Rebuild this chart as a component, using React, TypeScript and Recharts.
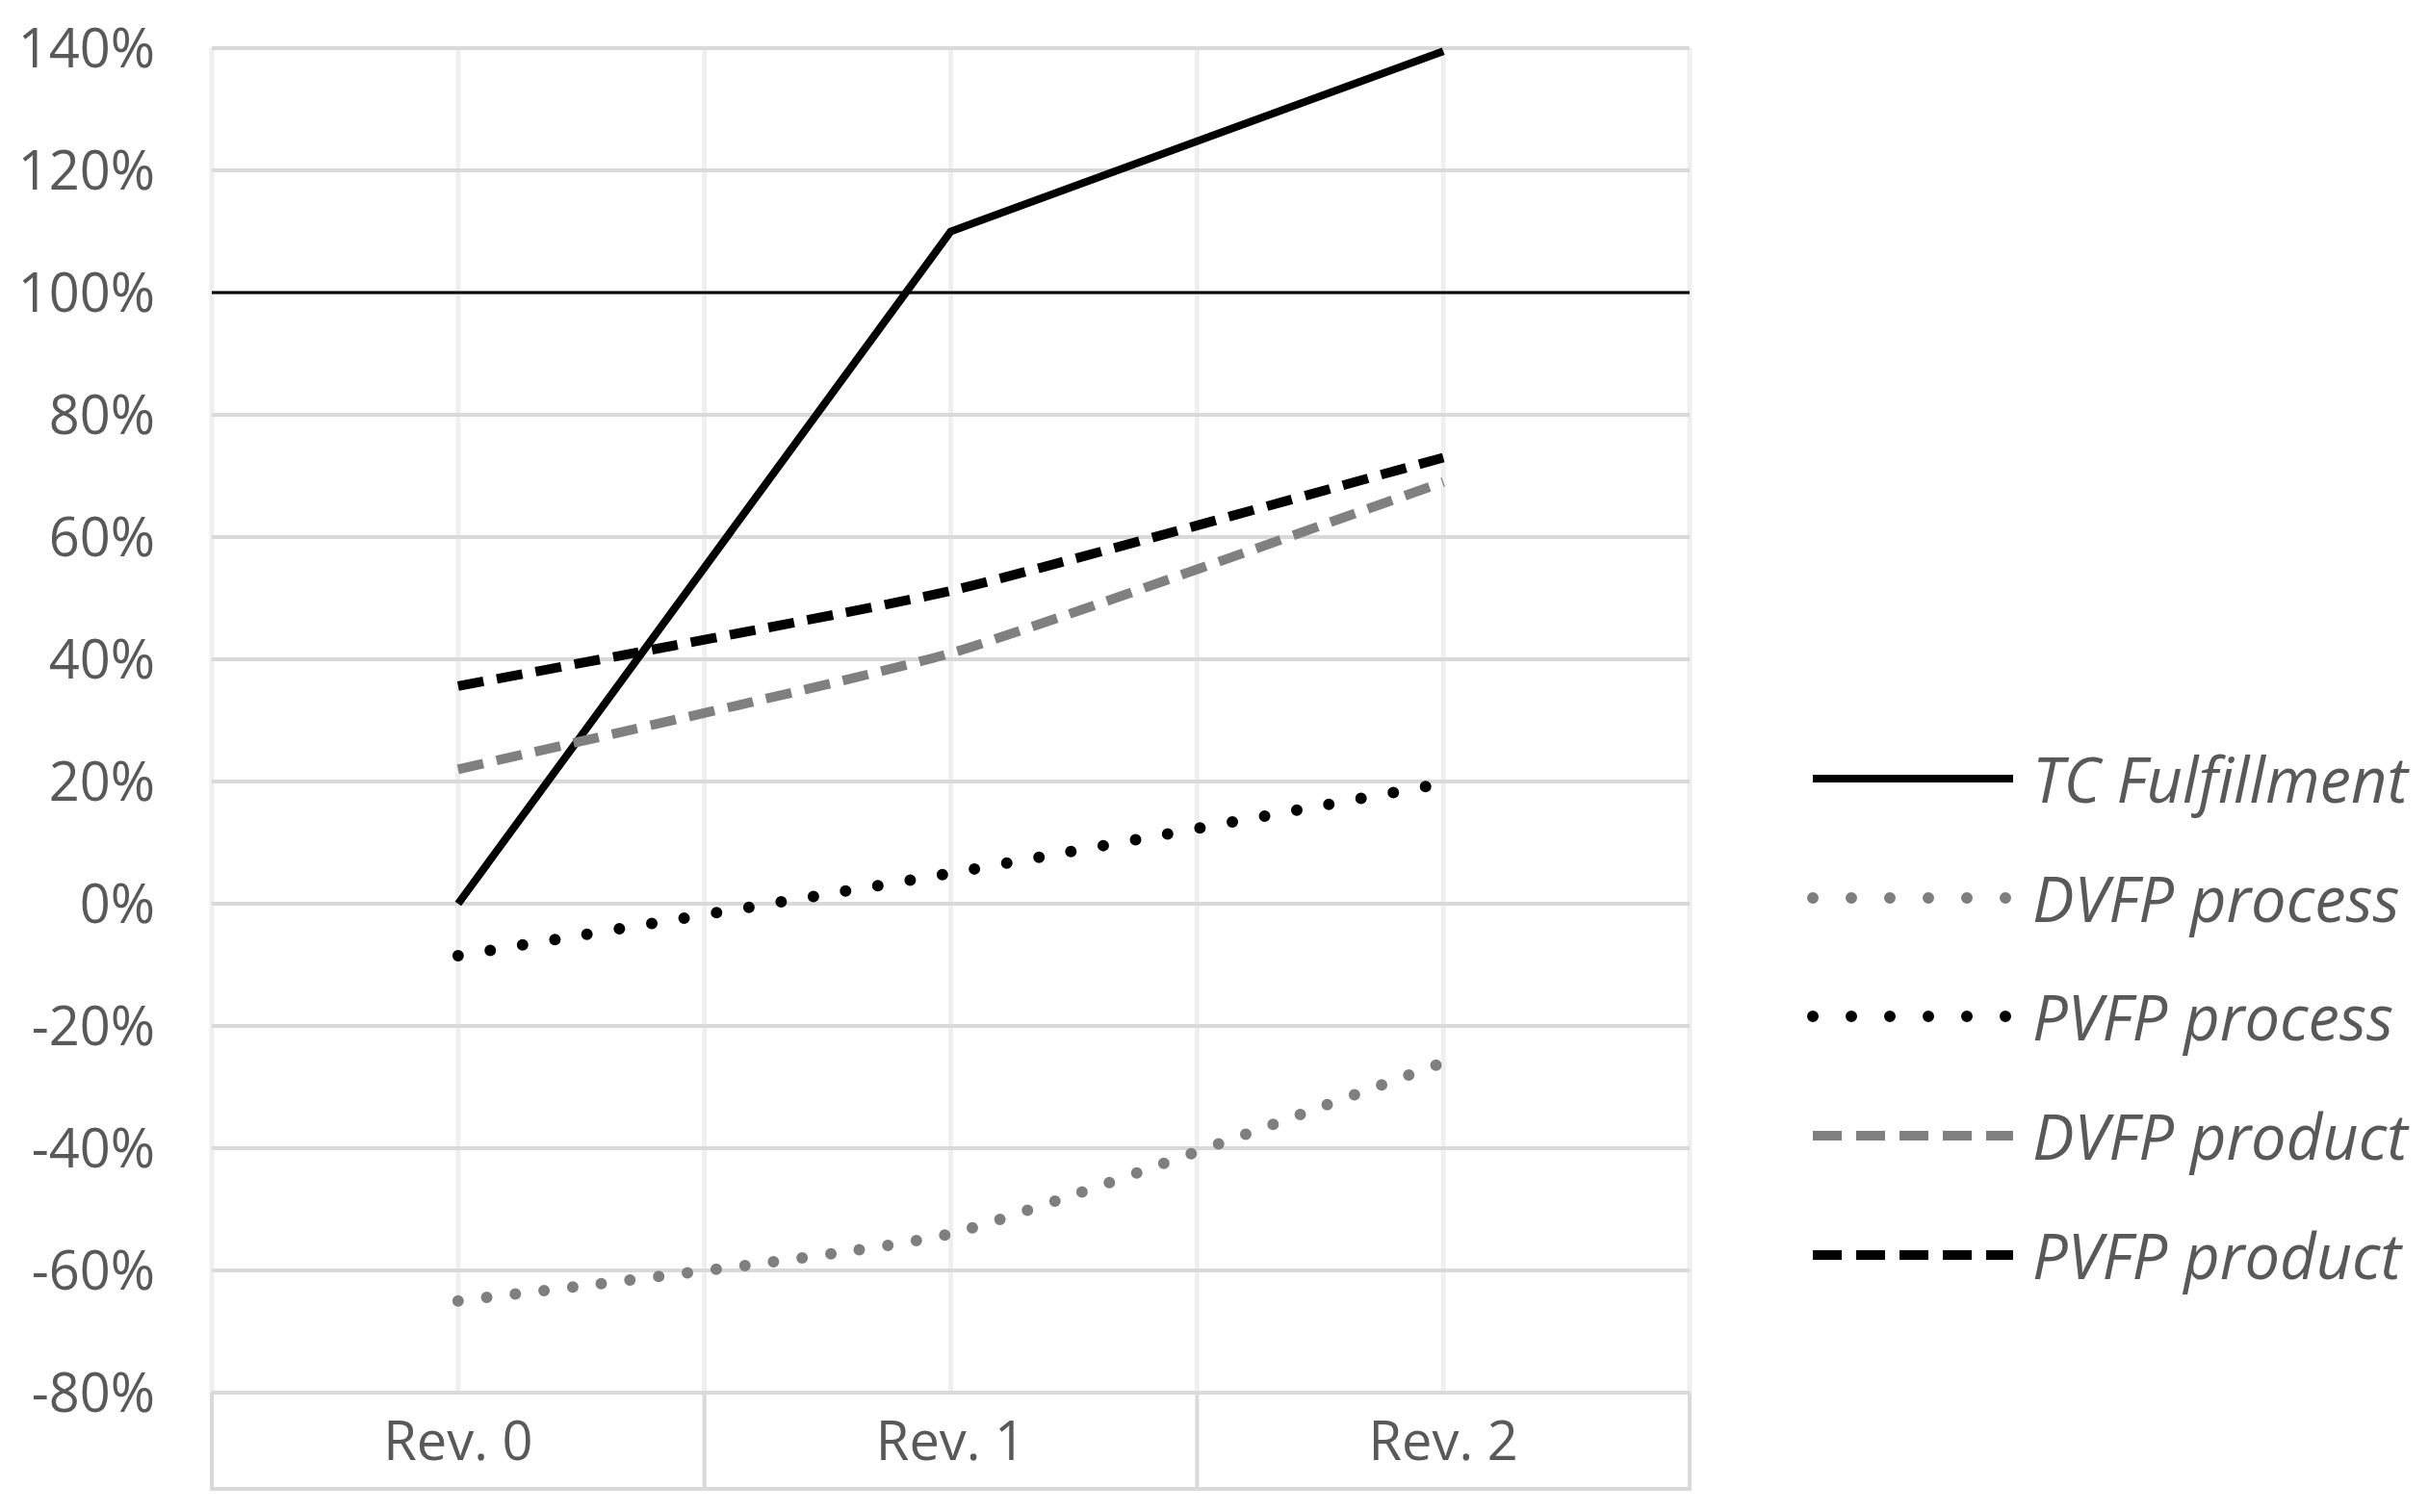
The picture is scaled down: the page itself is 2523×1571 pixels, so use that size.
import { LineChart, Line, XAxis, YAxis, CartesianGrid, Legend, ReferenceLine } from 'recharts'

// Revisions on the x axis
const categories = ['Rev. 0', 'Rev. 1', 'Rev. 2']

// Series values in percent
const tcFulfillment = [0, 110, 139.5]
const dvfpProcess = [-65, -54, -26]
const pvfpProcess = [-8.5, 5, 19.7]
const dvfpProduct = [22, 41, 69]
const pvfpProduct = [35.6, 51.2, 73]

const yTicks = [-80, -60, -40, -20, 0, 20, 40, 60, 80, 100, 120, 140]
const targetLevel = 100

// layout
const CHART_W = 2523
const CHART_H = 1571
const Y_AXIS_W = 220
const PLOT_RIGHT = 768
const X_AXIS_H = 100
const LEGEND_W = 646
const BAND = (CHART_W - Y_AXIS_W - PLOT_RIGHT) / categories.length
const FONT = "'Open Sans', 'Noto Sans', sans-serif"
const TEXT_GRAY = '#595959'
const AXIS_GRAY = '#d9d9d9'

const data = categories.map((rev, i) => ({
  rev,
  tc: tcFulfillment[i],
  dvfpProcess: dvfpProcess[i],
  pvfpProcess: pvfpProcess[i],
  dvfpProduct: dvfpProduct[i],
  pvfpProduct: pvfpProduct[i],
}))

// Excel's "smoothed line" is a loose cardinal spline; d3's built-in ones bend too much
function cardinalCurve(tension: number) {
  const k = (1 - tension) / 6
  return (context: any) => {
    let pts: number[][] = []
    return {
      areaStart() {},
      areaEnd() {},
      lineStart() {
        pts = []
      },
      lineEnd() {
        const n = pts.length
        if (!n) return
        context.moveTo(pts[0][0], pts[0][1])
        for (let i = 0; i < n - 1; i++) {
          const p0 = pts[Math.max(i - 1, 0)]
          const p1 = pts[i]
          const p2 = pts[i + 1]
          const p3 = pts[Math.min(i + 2, n - 1)]
          context.bezierCurveTo(
            p1[0] + k * (p2[0] - p0[0]),
            p1[1] + k * (p2[1] - p0[1]),
            p2[0] - k * (p3[0] - p1[0]),
            p2[1] - k * (p3[1] - p1[1]),
            p2[0],
            p2[1],
          )
        }
      },
      point(x: number, y: number) {
        pts.push([+x, +y])
      },
    }
  }
}
const smooth = cardinalCurve(0.5)

type SeriesStyle = {
  key: string
  name: string
  color: string
  width: number
  dash?: string
  legendDash?: string
  cap: 'butt' | 'round'
  smoothed: boolean
}

const series: SeriesStyle[] = [
  { key: 'tc', name: 'TC Fulfillment', color: '#000000', width: 8, cap: 'butt', smoothed: false },
  { key: 'dvfpProcess', name: 'DVFP process', color: '#7f7f7f', width: 12, dash: '0 30', legendDash: '0 40', cap: 'round', smoothed: true },
  { key: 'pvfpProcess', name: 'PVFP process', color: '#000000', width: 12, dash: '0 34', legendDash: '0 40', cap: 'round', smoothed: true },
  { key: 'dvfpProduct', name: 'DVFP product', color: '#808080', width: 10, dash: '27 14', legendDash: '30 15', cap: 'butt', smoothed: true },
  { key: 'pvfpProduct', name: 'PVFP product', color: '#000000', width: 10, dash: '27 14', legendDash: '30 15', cap: 'butt', smoothed: true },
]

// Category label inside a boxed cell, like Excel's "between tick marks" axis
function CategoryTick(props: any) {
  const { x, y, payload, index } = props
  const half = BAND / 2
  return (
    <g>
      {index === 0 && (
        <line x1={x - half} x2={x - half} y1={y} y2={y + X_AXIS_H} stroke={AXIS_GRAY} strokeWidth={4} />
      )}
      <line x1={x + half} x2={x + half} y1={y} y2={y + X_AXIS_H} stroke={AXIS_GRAY} strokeWidth={4} />
      <line x1={x - half - 2} x2={x + half + 2} y1={y + X_AXIS_H} y2={y + X_AXIS_H} stroke={AXIS_GRAY} strokeWidth={4} />
      <text
        x={x}
        y={y + X_AXIS_H / 2}
        dy="0.36em"
        textAnchor="middle"
        fill={TEXT_GRAY}
        fontSize={56}
        fontFamily={FONT}
      >
        {payload.value}
      </text>
    </g>
  )
}

function LegendContent() {
  return (
    <div style={{ fontFamily: FONT }}>
      {series.map((s) => (
        <div key={s.key} style={{ display: 'flex', alignItems: 'center', height: 123.7 }}>
          <svg width={229} height={40} style={{ flex: 'none' }}>
            <line
              x1={6}
              x2={214}
              y1={20}
              y2={20}
              stroke={s.color}
              strokeWidth={s.width}
              strokeDasharray={s.legendDash}
              strokeLinecap={s.cap}
            />
          </svg>
          <span
            style={{
              marginLeft: 5,
              fontSize: 65,
              fontStyle: 'italic',
              color: TEXT_GRAY,
              whiteSpace: 'nowrap',
            }}
          >
            {s.name}
          </span>
        </div>
      ))}
    </div>
  )
}

export default function App() {
  return (
    <div style={{ width: CHART_W, height: CHART_H, background: '#ffffff' }}>
      <style>{'body { margin: 0; }'}</style>
      <LineChart
        width={CHART_W}
        height={CHART_H}
        data={data}
        margin={{ top: 50, right: PLOT_RIGHT - LEGEND_W, bottom: CHART_H - 50 - 1397 - X_AXIS_H, left: 0 }}
      >
        {/* light vertical lines at category centres and boundaries */}
        <CartesianGrid
          horizontal={false}
          stroke="#efefef"
          strokeWidth={5}
          verticalCoordinatesGenerator={({ offset }: any) =>
            Array.from({ length: categories.length * 2 + 1 }, (_, i) => offset.left + (i * offset.width) / (categories.length * 2))
          }
        />
        <CartesianGrid vertical={false} stroke={AXIS_GRAY} strokeWidth={4} />

        <XAxis
          dataKey="rev"
          height={X_AXIS_H}
          axisLine={false}
          tickLine={false}
          tickSize={0}
          tickMargin={0}
          interval={0}
          padding={{ left: BAND / 2, right: BAND / 2 }}
          tick={<CategoryTick />}
        />
        <YAxis
          width={Y_AXIS_W}
          domain={[-80, 140]}
          ticks={yTicks}
          interval={0}
          axisLine={false}
          tickLine={false}
          tickSize={0}
          tickMargin={59}
          tickFormatter={(v) => `${v}%`}
          tick={{ fontSize: 56, fill: TEXT_GRAY, fontFamily: FONT }}
        />

        <ReferenceLine y={targetLevel} stroke="#000000" strokeWidth={3} />

        {series.map((s) => (
          <Line
            key={s.key}
            dataKey={s.key}
            name={s.name}
            type={s.smoothed ? (smooth as any) : 'linear'}
            stroke={s.color}
            strokeWidth={s.width}
            strokeDasharray={s.dash}
            strokeLinecap={s.cap}
            dot={false}
            activeDot={false}
            isAnimationActive={false}
          />
        ))}

        <Legend
          layout="vertical"
          align="right"
          verticalAlign="top"
          width={LEGEND_W}
          wrapperStyle={{ right: 0, top: 747, width: LEGEND_W }}
          content={() => <LegendContent />}
        />
      </LineChart>
    </div>
  )
}
